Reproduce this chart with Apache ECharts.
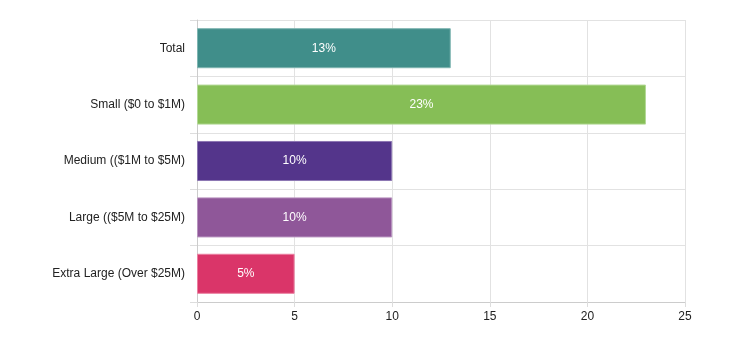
<!DOCTYPE html>
<html><head><meta charset="utf-8">
<script src="https://cdn.jsdelivr.net/npm/echarts@6/dist/echarts.min.js"></script>
<style>html,body{margin:0;padding:0;background:#fff}#c{width:737px;height:344px}</style>
</head><body><div id="c"></div>
<script>
const categories = ["Total", "Small ($0 to $1M)", "Medium (($1M to $5M)", "Large (($5M to $25M)", "Extra Large (Over $25M)"];
const values = [13, 23, 10, 10, 5];
const colors = ["#408E8A", "#86BE56", "#54358B", "#8F5799", "#DA3569"];
const borders = ["#7FB5B1", "#B3D996", "#8D77B3", "#B893BF", "#EB7FA0"];
const xTicks = { min: 0, max: 25, interval: 5 };

const chart = echarts.init(document.getElementById('c'));
chart.setOption({
  animation: false,
  grid: { left: 197, right: 52, top: 20, bottom: 42, containLabel: false },
  xAxis: {
    type: 'value', min: xTicks.min, max: xTicks.max, interval: xTicks.interval,
    axisLine: { show: true, lineStyle: { color: '#ccc' } },
    axisTick: { show: true, length: 5, lineStyle: { color: '#ddd' } },
    splitLine: { show: true, lineStyle: { color: '#e2e2e2' } },
    axisLabel: { color: '#222', fontSize: 12, fontFamily: 'Liberation Sans, Arial, sans-serif', margin: 9 }
  },
  yAxis: {
    type: 'category', data: categories, inverse: true,
    axisLine: { show: true, lineStyle: { color: '#ccc' } },
    axisTick: { show: true, length: 7, lineStyle: { color: '#ddd' } },
    splitLine: { show: true, lineStyle: { color: '#e2e2e2' } },
    axisLabel: { color: '#222', fontSize: 12, fontFamily: 'Liberation Sans, Arial, sans-serif', margin: 12 }
  },
  series: [{
    type: 'bar',
    barWidth: '71%',
    data: values.map((v, i) => ({ value: v, itemStyle: { color: colors[i], borderColor: borders[i], borderWidth: 1 } })),
    label: {
      show: true, position: 'inside', color: '#fff', fontSize: 12,
      fontFamily: 'Liberation Sans, Arial, sans-serif',
      formatter: p => p.value + '%'
    }
  }]
});
</script></body></html>
